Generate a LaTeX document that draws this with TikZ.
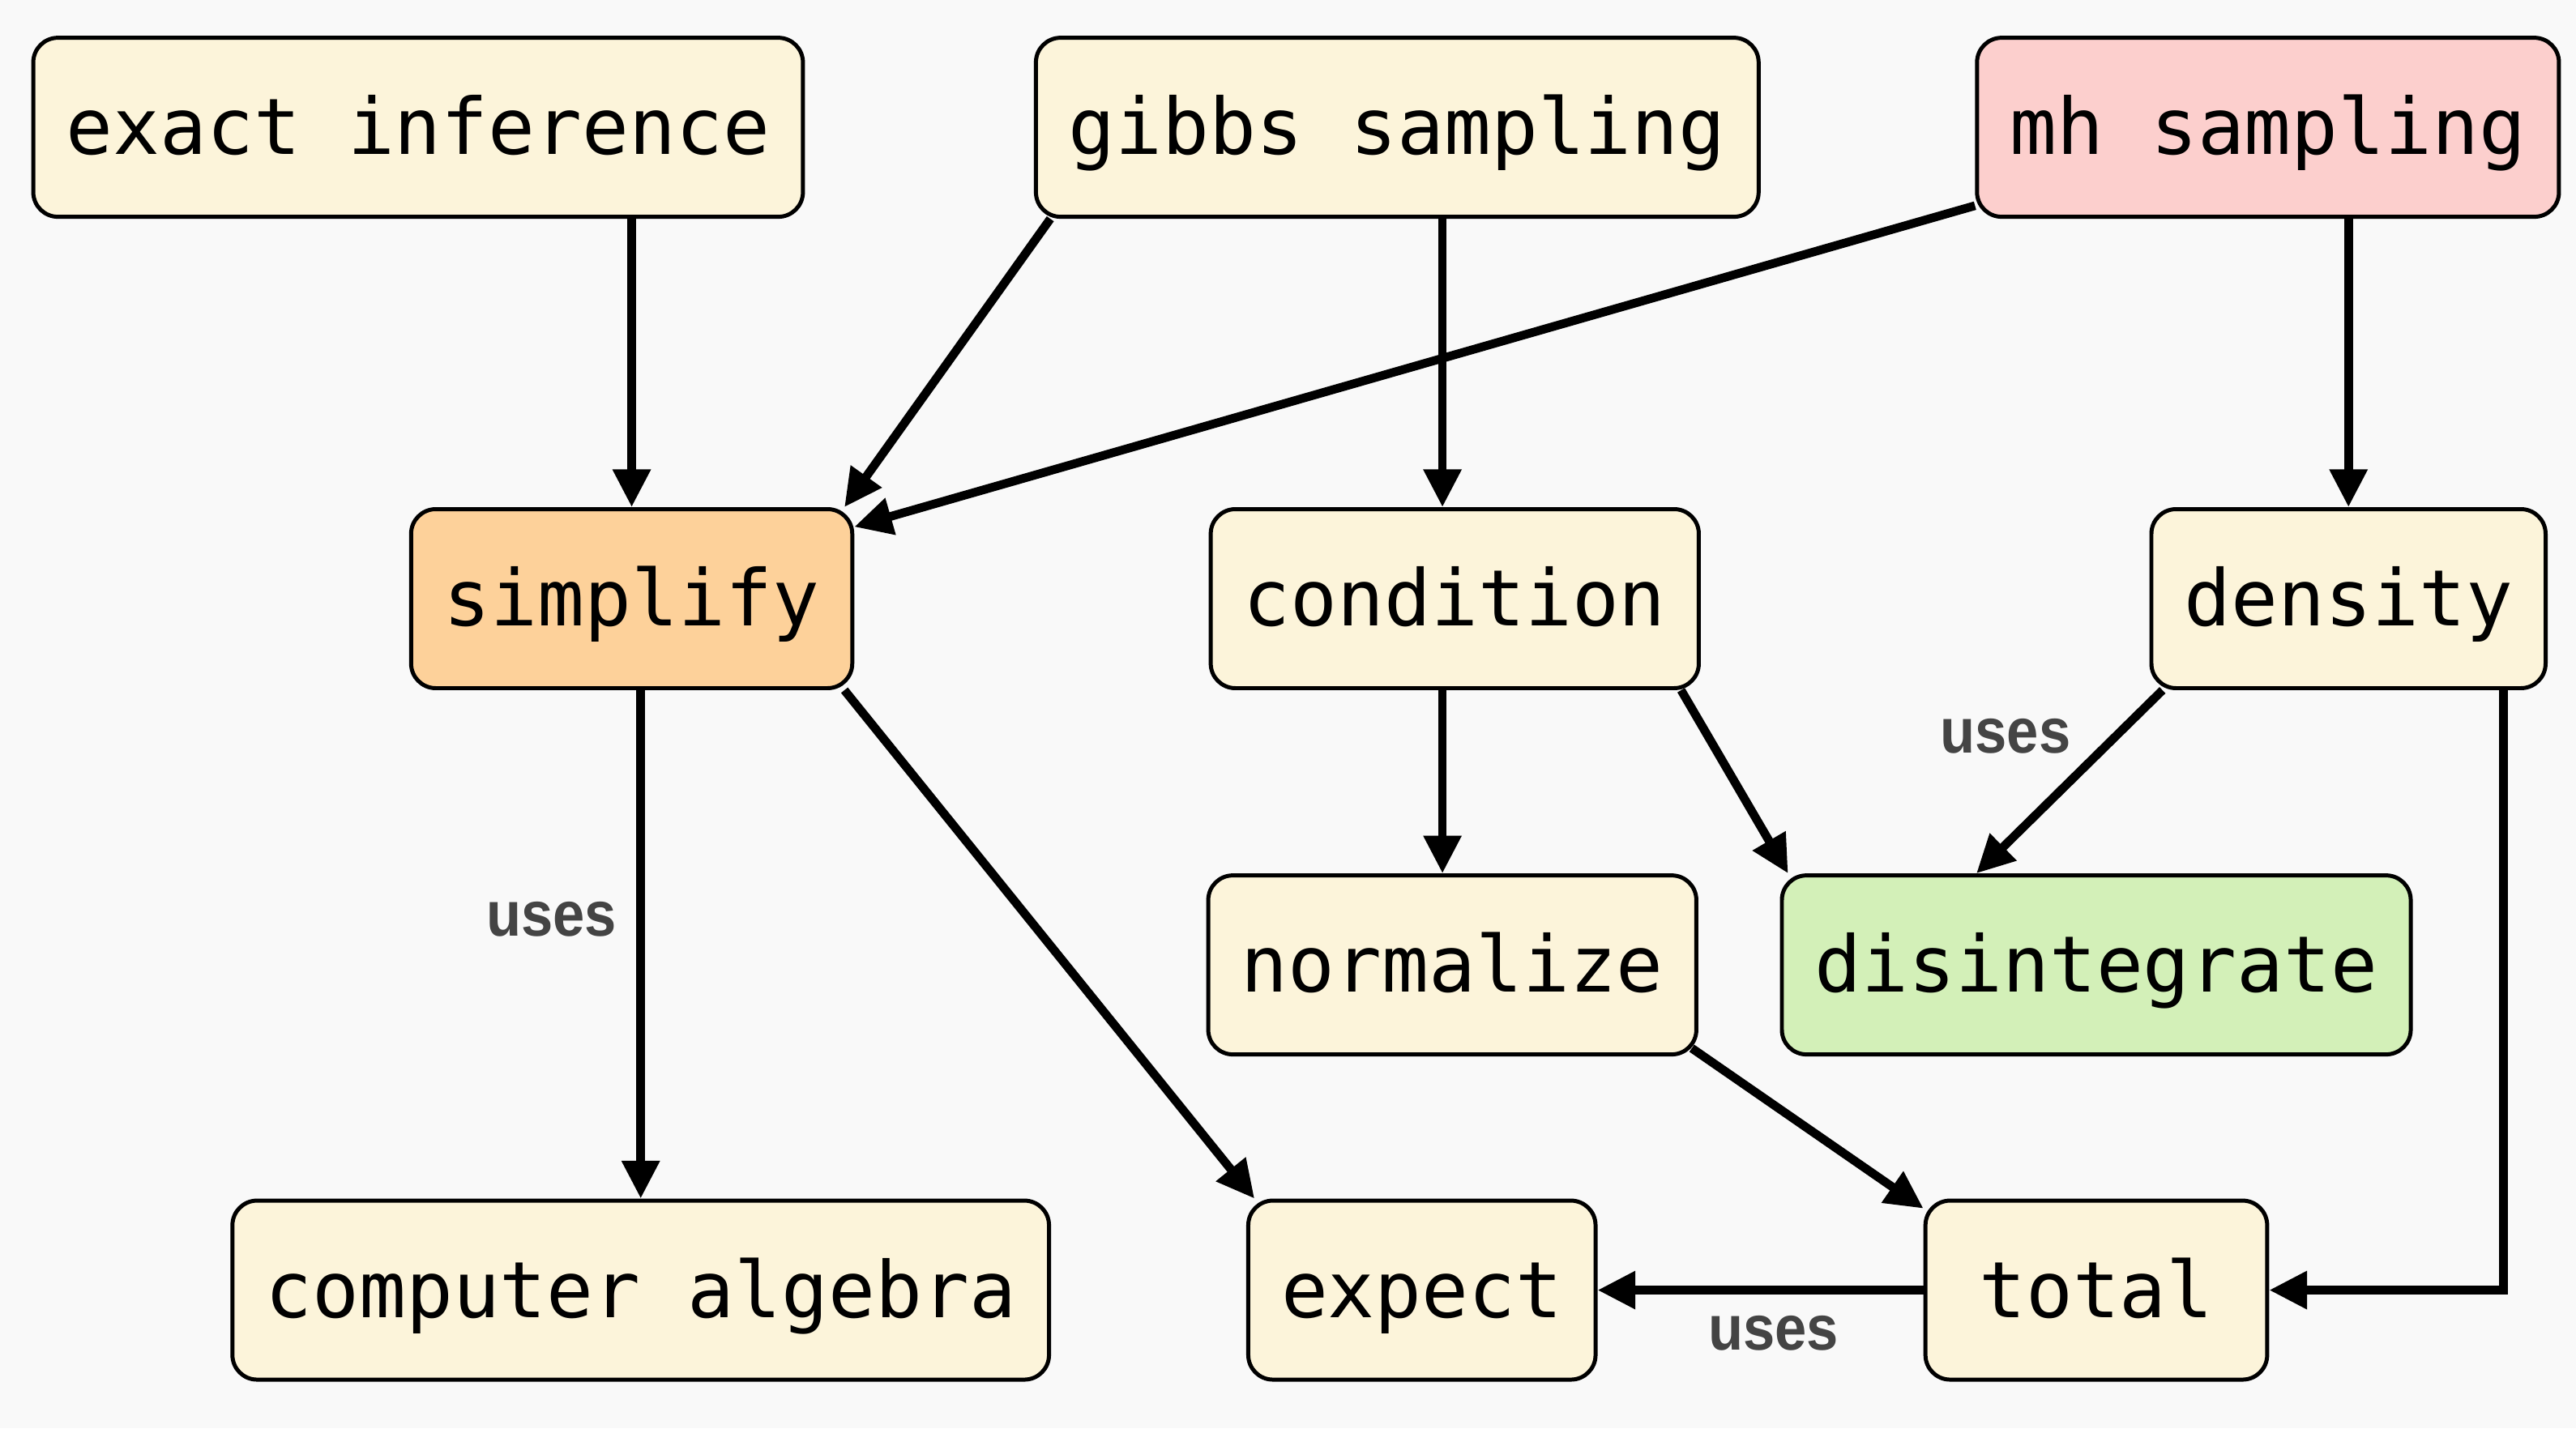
\documentclass[tikz,border=0pt]{standalone}
\usepackage{xcolor}
\usepackage{fontspec}
\usepackage{tikz}
\usetikzlibrary{arrows.meta, positioning}
\setmonofont{DejaVu Sans Mono}
\newfontfamily\usesfont[FakeStretch=0.9]{Liberation Sans}
\definecolor{bgcol}{RGB}{249,249,249}
\definecolor{creamfill}{RGB}{252,244,218}
\definecolor{pinkfill}{RGB}{252,207,205}
\definecolor{orangefill}{RGB}{253,209,154}
\definecolor{greenfill}{RGB}{211,240,184}
\definecolor{usesgray}{RGB}{68,68,68}

\begin{document}
\begin{tikzpicture}[
    box/.style={draw, line width=0.7pt, rounded corners=0.15cm, fill=creamfill, minimum width=2.08cm, minimum height=1.09cm, inner xsep=0.2cm, text height=0.43cm, text depth=0.1cm, font=\ttfamily\fontsize{13.5}{16}\selectfont},
    arrow/.style={-{Triangle[length=0.23cm, width=0.22cm]}, line width=1.5pt},
    uses/.style={inner sep=0pt, text=usesgray, font=\usesfont\bfseries\fontsize{11}{13}\selectfont}
]

% Background
\fill[bgcol] (0,0) rectangle (15.68,-8.696);
\useasboundingbox (0,0) rectangle (15.68,-8.696);

% Nodes
\node[box] (exact) at (2.545,-0.775) {exact inference};
\node[box] (gibbs) at (8.505,-0.775) {gibbs sampling};
\node[box, fill=pinkfill] (mh) at (13.805,-0.775) {mh sampling};
\node[box, fill=orangefill] (simplify) at (3.845,-3.645) {simplify};
\node[box] (condition) at (8.855,-3.645) {condition};
\node[box] (density) at (14.295,-3.645) {density};
\node[box] (normalize) at (8.84,-5.875) {normalize};
\node[box, fill=greenfill] (disintegrate) at (12.76,-5.875) {disintegrate};
\node[box] (algebra) at (3.90,-7.855) {computer algebra};
\node[box] (expect) at (8.655,-7.855) {expect};
\node[box] (total) at (12.76,-7.855) {total};

% Edges
\draw[arrow] (simplify.north |- exact.south) -- (simplify.north);
\draw[arrow] ([xshift=0.1cm]gibbs.south west) -- ([xshift=-0.06cm]simplify.north east);
\draw[arrow] ([yshift=0.08cm]mh.south west) -- ([yshift=-0.12cm]simplify.north east);
\draw[arrow] ([xshift=-0.075cm]condition.north |- gibbs.south) -- ([xshift=-0.075cm]condition.north);
\draw[arrow] (density.north |- mh.south) -- (density.north);
\draw[arrow] (simplify.south -| algebra.north) -- node[uses, pos=0.45, left=0.12cm] {uses} (algebra.north);
\draw[arrow] ([xshift=-0.06cm]simplify.south east) -- ([xshift=0.05cm]expect.north west);
\draw[arrow] ([xshift=-0.075cm]condition.south) -- ([xshift=-0.075cm]condition.south |- normalize.north);
\draw[arrow] ([xshift=-0.12cm]condition.south east) -- ([xshift=0.05cm]disintegrate.north west);
\draw[arrow] ([xshift=0.08cm]density.south west) -- node[uses, pos=0.25, left=0.25cm] {uses} ([xshift=-0.73cm]disintegrate.north);
\draw[arrow] ([xshift=-0.27cm]density.south east) |- (total.east);
\draw[arrow] ([xshift=-0.04cm, yshift=0.05cm]normalize.south east) -- ([yshift=-0.06cm]total.north west);
\draw[arrow] (total) -- node[uses, midway, below=0.13cm, xshift=0.08cm] {uses} (expect);

\end{tikzpicture}
\end{document}
